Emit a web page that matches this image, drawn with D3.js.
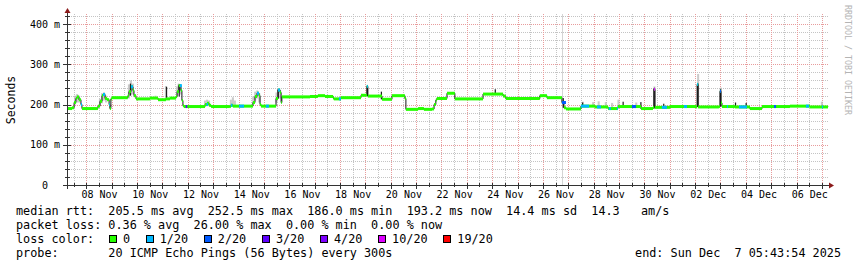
<!DOCTYPE html>
<html>
<head>
<meta charset="utf-8">
<script src="https://cdn.jsdelivr.net/npm/d3@7"></script>
<style>
  body { margin: 0; background: #fff; }
  text { font-family: "DejaVu Sans Mono", monospace; white-space: pre; }
</style>
</head>
<body>
<div id="app"></div>
<script>
// time window of the graph (30 days ending at the "end:" stamp)
const endTime = Date.UTC(2025, 11, 7, 5, 43, 54);
const DAY = 86400000;
const startTime = endTime - 30 * DAY;

// median rtt in ms, [days since start of window, value]
const median = [
  [0.00, 190], [0.20, 192], [0.28, 205], [0.35, 215], [0.39, 219], [0.47, 212], [0.55, 200], [0.59, 190],
  [1.18, 190], [1.22, 196], [1.30, 208], [1.38, 222], [1.42, 225], [1.50, 215], [1.58, 212], [1.66, 200],
  [1.69, 190], [1.73, 214], [1.77, 217],
  [2.37, 217], [2.40, 222], [2.44, 232], [2.52, 244], [2.60, 235], [2.64, 222], [2.72, 214],
  [3.27, 216], [3.59, 212], [3.90, 214], [4.06, 216], [4.30, 220], [4.34, 232], [4.41, 247], [4.49, 235],
  [4.53, 210], [4.57, 197], [4.61, 195],
  [5.40, 195], [5.44, 200], [5.52, 203], [5.60, 198], [5.68, 195],
  [6.39, 195], [6.46, 198], [6.54, 196],
  [7.29, 196], [7.33, 205], [7.41, 220], [7.49, 228], [7.57, 222], [7.61, 200], [7.65, 196],
  [8.16, 196], [8.24, 215], [8.32, 236], [8.40, 230], [8.44, 205], [8.47, 219],
  [9.58, 220], [9.89, 222], [10.17, 220], [10.49, 216], [10.52, 214], [10.80, 217],
  [11.59, 223], [11.82, 245], [11.86, 221],
  [12.42, 213], [12.81, 222], [13.32, 215], [13.36, 188], [13.84, 190], [14.07, 188], [14.39, 189],
  [14.47, 200], [14.54, 211], [14.58, 215], [14.98, 228], [15.29, 214], [16.40, 226], [17.19, 221], [17.30, 215],
  [18.64, 222], [18.92, 217], [19.51, 205], [19.59, 192], [19.67, 189],
  [20.26, 196], [20.81, 194], [21.33, 190], [21.72, 195], [22.63, 190],
  [23.10, 193], [23.14, 238], [23.18, 193], [23.77, 195],
  [24.80, 194], [24.84, 250], [24.88, 194],
  [25.70, 195], [25.74, 233], [25.78, 204], [25.82, 195],
  [26.33, 194], [26.92, 190], [27.40, 195], [28.50, 196], [29.29, 194], [30.00, 195]
];

// stretches where the median had loss, [from day, to day, index into lossKeys]
const lossSpans = [
  [0.55, 0.59, 1], [1.42, 1.50, 1], [1.66, 1.69, 1], [2.52, 2.60, 1], [4.45, 4.53, 1], [4.68, 4.74, 3],
  [5.50, 5.56, 1], [6.46, 6.52, 1], [6.78, 6.98, 1], [7.49, 7.57, 1], [7.84, 7.96, 1], [8.32, 8.40, 1],
  [10.72, 10.80, 1], [11.82, 11.86, 1],
  [19.51, 19.67, 2], [20.26, 20.58, 1], [20.89, 21.05, 1], [21.36, 21.44, 1], [21.68, 21.72, 1],
  [22.27, 22.43, 2], [23.14, 23.18, 5], [23.45, 23.65, 1],
  [24.32, 24.44, 1], [24.84, 24.88, 1], [25.74, 25.78, 2], [26.02, 26.06, 1], [26.49, 26.80, 1],
  [27.87, 27.95, 2], [29.13, 29.25, 1], [29.76, 29.80, 1]
];

// smoke (spread of the 20 pings), [day, low ms, high ms]
const smokeLight = [
  [0.28, 200, 222], [0.36, 205, 226], [0.44, 205, 222],
  [1.26, 196, 214], [1.34, 203, 228], [1.42, 210, 230], [1.50, 205, 222],
  [2.40, 215, 250], [2.48, 225, 260], [2.56, 225, 252],
  [3.45, 214, 222], [3.86, 214, 246],
  [4.30, 220, 245], [4.36, 230, 252], [4.44, 225, 245],
  [5.40, 195, 210], [5.48, 196, 212], [5.56, 196, 210],
  [6.42, 196, 212], [6.50, 196, 218], [6.58, 196, 210],
  [7.30, 200, 220], [7.38, 210, 232], [7.46, 215, 235], [7.54, 205, 228],
  [8.22, 205, 230], [8.28, 215, 240], [8.36, 215, 236],
  [20.30, 195, 207], [20.70, 195, 206], [20.92, 195, 208], [21.20, 194, 206], [21.45, 192, 204],
  [21.70, 195, 212], [22.40, 192, 205], [23.12, 190, 245], [24.84, 194, 276], [25.74, 195, 242],
  [29.72, 194, 207]
];
const smokeDark = [
  [2.48, 222, 252], [3.90, 214, 244], [4.40, 220, 250], [8.30, 215, 238], [11.82, 221, 247],
  [12.37, 213, 232], [16.86, 226, 238], [19.54, 192, 216], [20.30, 195, 205], [21.90, 195, 207],
  [22.60, 190, 206], [23.12, 190, 240], [23.50, 193, 202], [24.84, 194, 253], [25.74, 195, 238],
  [26.33, 194, 205], [26.75, 194, 204]
];
// full-height grey marker
const outageMarks = [19.53];

const yTicks = [0, 100, 200, 300, 400];
const lossKeys = ['0', '1/20', '2/20', '3/20', '4/20', '10/20', '19/20'];
const lossColors = ['#26ff00', '#00b8ff', '#0059ff', '#5e00ff', '#7e00ff', '#dd00ff', '#ff0000'];

const statLines = [
  'median rtt:  205.5 ms avg  252.5 ms max  186.0 ms min  193.2 ms now  14.4 ms sd  14.3   am/s',
  'packet loss: 0.36 % avg  26.00 % max  0.00 % min  0.00 % now',
  'loss color:',
  'probe:       20 ICMP Echo Pings (56 Bytes) every 300s'
];
const endLabel = 'end: Sun Dec  7 05:43:54 2025';

const W = 857, H = 267;
const plotL = 67, plotR = 828, plotT = 14, plotB = 185;

const svg = d3.select('#app').append('svg')
  .attr('width', W)
  .attr('height', H);

const x = d3.scaleUtc()
  .domain([new Date(startTime), new Date(endTime)])
  .range([plotL, plotR]);
const y = d3.scaleLinear()
  .domain([0, 425])
  .range([plotB, plotT]);

const t = d => new Date(startTime + d * DAY);
const px = v => Math.round(v) + 0.5;

// grid
const grid = svg.append('g').attr('shape-rendering', 'crispEdges');
const minorY = d3.range(20, 421, 20).filter(v => v % 100);
grid.selectAll('.hmin').data(minorY).join('line')
  .attr('x1', plotL).attr('x2', plotR)
  .attr('y1', d => px(y(d))).attr('y2', d => px(y(d)))
  .attr('stroke', '#c4c4c4').attr('stroke-dasharray', '1,1');

const halfDays = d3.utcHour.every(12).range(new Date(startTime), new Date(endTime));
grid.selectAll('.vmin').data(halfDays.filter(d => d.getUTCHours() === 12)).join('line')
  .attr('x1', d => px(x(d))).attr('x2', d => px(x(d)))
  .attr('y1', plotT).attr('y2', plotB)
  .attr('stroke', '#c4c4c4').attr('stroke-dasharray', '1,1');

grid.selectAll('.hmaj').data(yTicks.filter(v => v > 0)).join('line')
  .attr('x1', plotL).attr('x2', plotR)
  .attr('y1', d => px(y(d))).attr('y2', d => px(y(d)))
  .attr('stroke', '#e89c9c').attr('stroke-dasharray', '1,1');

const midnights = d3.utcDay.range(new Date(startTime), new Date(endTime));
grid.selectAll('.vmaj').data(midnights).join('line')
  .attr('x1', d => px(x(d))).attr('x2', d => px(x(d)))
  .attr('y1', plotT).attr('y2', plotB)
  .attr('stroke', '#e89c9c').attr('stroke-dasharray', '1,1');

// data
const plot = svg.append('g');

plot.selectAll('.outage').data(outageMarks).join('line')
  .attr('x1', d => px(x(t(d)))).attr('x2', d => px(x(t(d))))
  .attr('y1', plotT).attr('y2', plotB)
  .attr('stroke', '#d4d4d4');

const barW = x(t(0.08)) - x(t(0));
plot.selectAll('.smokeL').data(smokeLight).join('rect')
  .attr('x', d => x(t(d[0])))
  .attr('width', barW)
  .attr('y', d => y(d[2]))
  .attr('height', d => y(d[1]) - y(d[2]))
  .attr('fill', '#b8b8b8')
  .attr('opacity', 0.75);

plot.selectAll('.smokeD').data(smokeDark).join('rect')
  .attr('x', d => x(t(d[0])))
  .attr('width', barW * 0.6)
  .attr('y', d => y(d[2]))
  .attr('height', d => y(d[1]) - y(d[2]))
  .attr('fill', '#1e1e1e');

const stepLine = d3.line()
  .x(d => x(t(d[0])))
  .y(d => y(d[1]))
  .curve(d3.curveStepAfter);

plot.append('path')
  .datum(median)
  .attr('fill', 'none')
  .attr('stroke', '#161616')
  .attr('stroke-width', 1)
  .attr('d', stepLine);

const segs = median.slice(0, -1).map((d, i) => [d[0], median[i + 1][0], d[1]]);
plot.selectAll('.band').data(segs).join('rect')
  .attr('x', d => x(t(d[0])))
  .attr('width', d => x(t(d[1])) - x(t(d[0])))
  .attr('y', d => y(d[2]) - 1.5)
  .attr('height', 3)
  .attr('fill', lossColors[0]);

const bis = d3.bisector(d => d[0]).right;
const medianAt = d => median[Math.max(0, bis(median, d + 1e-6) - 1)][1];
plot.selectAll('.loss').data(lossSpans).join('rect')
  .attr('x', d => x(t(d[0])))
  .attr('width', d => x(t(d[1])) - x(t(d[0])))
  .attr('y', d => y(medianAt(d[0])) - 1.5)
  .attr('height', 3)
  .attr('fill', d => lossColors[d[2]]);

// axes
const axisCol = '#333';
const ax = svg.append('g').attr('shape-rendering', 'crispEdges');
ax.append('line').attr('x1', 63).attr('x2', 829).attr('y1', 185.5).attr('y2', 185.5).attr('stroke', axisCol);
ax.append('line').attr('x1', 67.5).attr('x2', 67.5).attr('y1', 189).attr('y2', 12).attr('stroke', axisCol);
ax.selectAll('.yt').data(minorY).join('line')
  .attr('x1', 65).attr('x2', 70).attr('y1', d => px(y(d))).attr('y2', d => px(y(d))).attr('stroke', axisCol);
ax.selectAll('.ytm').data(yTicks).join('line')
  .attr('x1', 63).attr('x2', 71).attr('y1', d => px(y(d))).attr('y2', d => px(y(d))).attr('stroke', axisCol);
ax.selectAll('.xt').data(halfDays).join('line')
  .attr('x1', d => px(x(d))).attr('x2', d => px(x(d)))
  .attr('y1', 183).attr('y2', d => d.getUTCHours() === 0 ? 189 : 187)
  .attr('stroke', axisCol);

const arrowCol = '#8b1a1a';
svg.append('path').attr('d', 'M64.5,13 L70.5,13 L67.5,8 Z').attr('fill', arrowCol);
svg.append('path').attr('d', 'M829,182.5 L829,188.5 L834,185.5 Z').attr('fill', arrowCol);

const labelDays = midnights.filter(d => d.getUTCDate() % 2 === 0).map(d => d3.utcHour.offset(d, 12));
svg.append('g')
  .attr('transform', `translate(0,${plotB})`)
  .call(d3.axisBottom(x).tickValues(labelDays).tickFormat(d3.utcFormat('%d %b')).tickSize(0).tickPadding(6))
  .call(g => g.select('.domain').remove())
  .attr('font-family', null)
  .attr('font-size', 10)
  .selectAll('text').attr('fill', '#000');

svg.append('g')
  .attr('transform', `translate(${plotL},0)`)
  .call(d3.axisLeft(y).tickValues(yTicks).tickFormat(v => v ? v + ' m' : '0  ').tickSize(0).tickPadding(7))
  .call(g => g.select('.domain').remove())
  .attr('font-family', null)
  .attr('font-size', 10)
  .selectAll('text').attr('fill', '#000').attr('xml:space', 'preserve');

svg.append('text')
  .attr('transform', 'translate(15,100) rotate(-90)')
  .attr('text-anchor', 'middle')
  .attr('font-size', 11.5)
  .text('Seconds');

svg.append('text')
  .attr('transform', 'translate(845,5) rotate(90)')
  .attr('font-size', 8.3)
  .attr('fill', '#b4b4b4')
  .text('RRDTOOL / TOBI OETIKER');

// legend
const lg = svg.append('g').attr('font-size', 11.8).attr('fill', '#000');
lg.selectAll('text').data(statLines).join('text')
  .attr('x', 16)
  .attr('y', (d, i) => 215 + i * 14)
  .attr('xml:space', 'preserve')
  .text(d => d);
lg.append('text')
  .attr('x', 841).attr('y', 257)
  .attr('text-anchor', 'end')
  .attr('xml:space', 'preserve')
  .text(endLabel);

let cx = 108.7;
lossKeys.forEach((k, i) => {
  lg.append('rect')
    .attr('x', Math.round(cx) + 0.5).attr('y', 235.5)
    .attr('width', 7).attr('height', 7)
    .attr('fill', lossColors[i]).attr('stroke', '#000');
  lg.append('text').attr('x', cx + 14.2).attr('y', 243).text(k);
  cx += 14.2 + k.length * 7.1 + 15.5;
});
</script>
</body>
</html>
